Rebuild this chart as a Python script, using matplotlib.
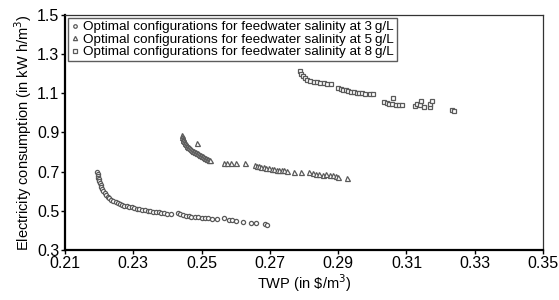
import matplotlib.pyplot as plt

plt.rcParams['font.family'] = ['Liberation Sans', 'DejaVu Sans']

# feedwater salinity 3 g/L (circles)
twp_3 = [0.2195, 0.2196, 0.2197, 0.2198, 0.2199, 0.2200, 0.2202, 0.2204, 0.2206, 0.2209,
         0.2212, 0.2216, 0.2220, 0.2225, 0.2230, 0.2236, 0.2242, 0.2248, 0.2254, 0.2260,
         0.2267, 0.2274, 0.2281, 0.2288, 0.2295, 0.2302, 0.2310, 0.2318, 0.2326, 0.2334,
         0.2342, 0.2350, 0.2358, 0.2366, 0.2374, 0.2382, 0.2390, 0.2398, 0.2410, 0.2432,
         0.2438, 0.2446, 0.2454, 0.2462, 0.2470, 0.2480, 0.2490, 0.2500, 0.2510, 0.2520,
         0.2530, 0.2545, 0.2565, 0.2580, 0.2590, 0.2600, 0.2620, 0.2645, 0.2660, 0.2685,
         0.2692]
elec_3 = [0.700, 0.690, 0.680, 0.670, 0.660, 0.650, 0.640, 0.630, 0.620, 0.610,
          0.600, 0.590, 0.580, 0.572, 0.565, 0.557, 0.550, 0.545, 0.540, 0.535,
          0.531, 0.527, 0.523, 0.520, 0.517, 0.514, 0.511, 0.508, 0.505, 0.502,
          0.500, 0.498, 0.496, 0.494, 0.492, 0.490, 0.488, 0.486, 0.484, 0.490,
          0.482, 0.478, 0.475, 0.472, 0.470, 0.468, 0.466, 0.465, 0.463, 0.462,
          0.460, 0.457, 0.465, 0.455, 0.452, 0.450, 0.445, 0.440, 0.438, 0.435,
          0.430]

# feedwater salinity 5 g/L (triangles)
twp_5 = [0.2443, 0.2444, 0.2445, 0.2446, 0.2447, 0.2448, 0.2450, 0.2452, 0.2454, 0.2456,
         0.2458, 0.2460, 0.2463, 0.2466, 0.2469, 0.2472, 0.2475, 0.2478, 0.2481, 0.2484,
         0.2487, 0.2490, 0.2493, 0.2496, 0.2499, 0.2502, 0.2505, 0.2508, 0.2511, 0.2514,
         0.2517, 0.2520, 0.2523, 0.2525, 0.2487,
         0.2565, 0.2575, 0.2585, 0.2600, 0.2627, 0.2655, 0.2662, 0.2668, 0.2675, 0.2682,
         0.2690, 0.2698, 0.2705, 0.2712, 0.2720, 0.2728, 0.2735, 0.2742, 0.2750, 0.2770,
         0.2790, 0.2815, 0.2825, 0.2835, 0.2845, 0.2855, 0.2865, 0.2875, 0.2885, 0.2895,
         0.2900, 0.2925]
elec_5 = [0.885, 0.878, 0.871, 0.865, 0.860, 0.855, 0.850, 0.845, 0.840, 0.836,
          0.832, 0.828, 0.824, 0.820, 0.816, 0.812, 0.808, 0.805, 0.802, 0.799,
          0.796, 0.793, 0.790, 0.787, 0.784, 0.781, 0.778, 0.775, 0.772, 0.769,
          0.766, 0.763, 0.760, 0.757, 0.848,
          0.745, 0.745, 0.745, 0.742, 0.742, 0.735, 0.730, 0.728, 0.725, 0.722,
          0.720, 0.718, 0.715, 0.713, 0.711, 0.710, 0.706, 0.708, 0.705, 0.700,
          0.700, 0.700, 0.695, 0.690, 0.688, 0.685, 0.690, 0.685, 0.682, 0.680,
          0.675, 0.668]

# feedwater salinity 8 g/L (squares)
twp_8 = [0.2788, 0.2792, 0.2797, 0.2803, 0.2810, 0.2818, 0.2828, 0.2838, 0.2848, 0.2858,
         0.2868, 0.2878, 0.2900, 0.2908, 0.2915, 0.2922, 0.2930, 0.2938, 0.2946, 0.2954,
         0.2962, 0.2970, 0.2980, 0.2992, 0.3002, 0.3035, 0.3042, 0.3050, 0.3058, 0.3060,
         0.3068, 0.3078, 0.3088, 0.3125, 0.3132, 0.3140, 0.3142, 0.3150, 0.3168, 0.3170,
         0.3175, 0.3232, 0.3240]
elec_8 = [1.215, 1.200, 1.188, 1.178, 1.170, 1.163, 1.160, 1.158, 1.155, 1.153,
          1.150, 1.148, 1.128, 1.122, 1.118, 1.115, 1.112, 1.108, 1.106, 1.104,
          1.102, 1.100, 1.098, 1.096, 1.095, 1.055, 1.050, 1.048, 1.045, 1.075,
          1.042, 1.040, 1.040, 1.035, 1.045, 1.038, 1.060, 1.032, 1.032, 1.048,
          1.060, 1.015, 1.010]

xticks = [0.21, 0.23, 0.25, 0.27, 0.29, 0.31, 0.33, 0.35]
yticks = [0.3, 0.5, 0.7, 0.9, 1.1, 1.3, 1.5]

fig = plt.figure(figsize=(5.59, 3.0), dpi=100)
ax = fig.add_axes([0.1163, 0.1667, 0.8551, 0.7833])

gris = '#5a5a5a'
ms = 3.0
ax.plot(twp_3, elec_3, 'o', ls='none', mfc='white', mec=gris, mew=0.9, ms=ms,
        label='Optimal configurations for feedwater salinity at 3\u2009g/L')
ax.plot(twp_5, elec_5, '^', ls='none', mfc='white', mec=gris, mew=0.9, ms=ms + 0.6,
        label='Optimal configurations for feedwater salinity at 5\u2009g/L')
ax.plot(twp_8, elec_8, 's', ls='none', mfc='white', mec=gris, mew=0.9, ms=ms,
        label='Optimal configurations for feedwater salinity at 8\u2009g/L')

ax.set_xlim(0.21, 0.35)
ax.set_ylim(0.3, 1.5)
ax.set_xticks(xticks)
ax.set_xticklabels([f'{v:.2f}' for v in xticks])
ax.set_yticks(yticks)
ax.set_yticklabels([f'{v:.1f}' for v in yticks])
ax.tick_params(labelsize=11.5, length=3, width=1, color='black', pad=1)

for s in ['left', 'bottom']:
    ax.spines[s].set_linewidth(1.6)
for s in ['top', 'right']:
    ax.spines[s].set_linewidth(0.9)
    ax.spines[s].set_color('#333333')

ax.set_xlabel('TWP (in \\$/m$^3$)', fontsize=10.5, labelpad=1)
ax.set_ylabel('Electricity consumption (in kW h/m$^3$)', fontsize=10.5, labelpad=2)

leg = ax.legend(loc='upper left', fontsize=9.7, frameon=True, fancybox=False,
                edgecolor='#333333', handlelength=0.6, handletextpad=0.3,
                borderpad=0.2, labelspacing=0.0, borderaxespad=0.25, markerscale=0.85)
leg.get_frame().set_linewidth(1.0)

fig.savefig('out.png', dpi=100)
